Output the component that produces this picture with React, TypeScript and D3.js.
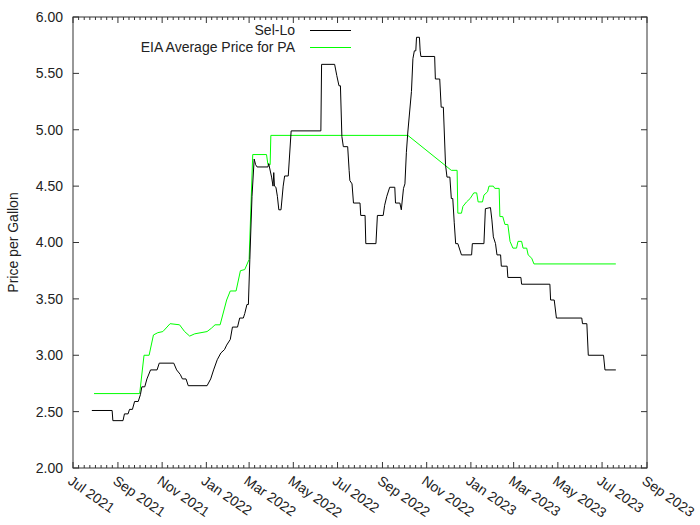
import React from 'react';
import * as d3 from 'd3';

// Sel-Lo posted price, change points [date, price]
const selLo: [string, number][] = [
  ['2021-07-27', 2.51], ['2021-08-24', 2.51], ['2021-08-25', 2.42], ['2021-09-08', 2.42],
  ['2021-09-10', 2.48], ['2021-09-15', 2.48], ['2021-09-17', 2.52], ['2021-09-21', 2.52],
  ['2021-09-24', 2.59], ['2021-09-29', 2.59], ['2021-10-02', 2.65], ['2021-10-04', 2.72],
  ['2021-10-08', 2.72], ['2021-10-11', 2.79], ['2021-10-16', 2.87], ['2021-10-25', 2.87],
  ['2021-10-28', 2.93], ['2021-11-17', 2.93], ['2021-11-21', 2.87], ['2021-11-26', 2.83],
  ['2021-11-29', 2.79], ['2021-12-04', 2.79], ['2021-12-07', 2.73], ['2022-01-02', 2.73],
  ['2022-01-07', 2.79], ['2022-01-11', 2.87], ['2022-01-16', 2.96], ['2022-01-21', 3.02],
  ['2022-01-26', 3.05], ['2022-01-29', 3.09], ['2022-02-03', 3.14], ['2022-02-06', 3.25],
  ['2022-02-13', 3.25], ['2022-02-16', 3.33], ['2022-02-21', 3.33], ['2022-02-23', 3.37],
  ['2022-02-26', 3.45], ['2022-02-28', 3.45], ['2022-03-02', 3.85], ['2022-03-05', 4.41],
  ['2022-03-08', 4.74], ['2022-03-10', 4.69], ['2022-03-12', 4.67], ['2022-03-27', 4.67],
  ['2022-03-28', 4.70], ['2022-04-01', 4.58], ['2022-04-03', 4.50], ['2022-04-04', 4.62],
  ['2022-04-05', 4.50], ['2022-04-07', 4.49], ['2022-04-09', 4.41], ['2022-04-11', 4.29],
  ['2022-04-14', 4.29], ['2022-04-17', 4.50], ['2022-04-19', 4.59], ['2022-04-24', 4.59],
  ['2022-04-28', 4.99], ['2022-06-08', 4.99], ['2022-06-09', 5.58], ['2022-06-27', 5.58],
  ['2022-06-30', 5.48], ['2022-07-03', 5.39], ['2022-07-05', 5.39], ['2022-07-07', 4.94],
  ['2022-07-09', 4.85], ['2022-07-15', 4.85], ['2022-07-17', 4.64], ['2022-07-18', 4.55],
  ['2022-07-21', 4.52], ['2022-07-23', 4.35], ['2022-08-01', 4.35], ['2022-08-02', 4.24],
  ['2022-08-08', 4.24], ['2022-08-09', 3.99], ['2022-08-23', 3.99], ['2022-08-25', 4.24],
  ['2022-09-02', 4.24], ['2022-09-04', 4.33], ['2022-09-07', 4.41], ['2022-09-11', 4.49],
  ['2022-09-18', 4.49], ['2022-09-19', 4.35], ['2022-09-25', 4.35], ['2022-09-27', 4.29],
  ['2022-09-30', 4.48], ['2022-10-02', 4.52], ['2022-10-04', 4.80], ['2022-10-06', 4.98],
  ['2022-10-11', 5.34], ['2022-10-13', 5.63], ['2022-10-15', 5.70], ['2022-10-17', 5.70],
  ['2022-10-18', 5.82], ['2022-10-22', 5.82], ['2022-10-23', 5.70], ['2022-10-24', 5.65],
  ['2022-11-12', 5.65], ['2022-11-13', 5.45], ['2022-11-19', 5.45], ['2022-11-21', 5.20],
  ['2022-11-24', 5.20], ['2022-11-27', 4.69], ['2022-11-29', 4.58], ['2022-12-03', 4.58],
  ['2022-12-05', 4.39], ['2022-12-07', 4.39], ['2022-12-09', 4.18], ['2022-12-11', 3.99],
  ['2022-12-14', 3.99], ['2022-12-19', 3.89], ['2023-01-02', 3.89], ['2023-01-03', 3.99],
  ['2023-01-19', 3.99], ['2023-01-21', 4.30], ['2023-01-28', 4.31], ['2023-01-30', 4.20],
  ['2023-02-01', 4.05], ['2023-02-04', 3.99], ['2023-02-06', 3.89], ['2023-02-11', 3.89],
  ['2023-02-12', 3.79], ['2023-02-20', 3.79], ['2023-02-21', 3.69], ['2023-03-11', 3.69],
  ['2023-03-12', 3.63], ['2023-04-20', 3.63], ['2023-04-21', 3.49], ['2023-04-26', 3.49],
  ['2023-04-29', 3.33], ['2023-06-03', 3.33], ['2023-06-04', 3.28], ['2023-06-10', 3.28],
  ['2023-06-12', 3.00], ['2023-07-03', 3.00], ['2023-07-05', 2.87], ['2023-07-20', 2.87],
];

// EIA average retail price for Pennsylvania
const eiaPA: [string, number][] = [
  ['2021-07-30', 2.66], ['2021-10-01', 2.66], ['2021-10-07', 3.00], ['2021-10-14', 3.00],
  ['2021-10-20', 3.18], ['2021-10-26', 3.20], ['2021-11-02', 3.21], ['2021-11-12', 3.28],
  ['2021-11-25', 3.27], ['2021-12-02', 3.21], ['2021-12-09', 3.17], ['2021-12-16', 3.19],
  ['2022-01-02', 3.21], ['2022-01-08', 3.24], ['2022-01-13', 3.27], ['2022-01-20', 3.27],
  ['2022-01-29', 3.49], ['2022-02-03', 3.57], ['2022-02-11', 3.57], ['2022-02-17', 3.75],
  ['2022-02-23', 3.76], ['2022-03-01', 3.85], ['2022-03-06', 4.78], ['2022-03-25', 4.78],
  ['2022-03-27', 4.69], ['2022-03-30', 4.69], ['2022-03-31', 4.95], ['2022-10-06', 4.95],
  ['2022-12-05', 4.64], ['2022-12-13', 4.64], ['2022-12-14', 4.26], ['2022-12-19', 4.26],
  ['2022-12-21', 4.32], ['2022-12-26', 4.36], ['2022-12-31', 4.39], ['2023-01-05', 4.44],
  ['2023-01-09', 4.44], ['2023-01-11', 4.36], ['2023-01-17', 4.36], ['2023-01-19', 4.42],
  ['2023-01-24', 4.45], ['2023-01-26', 4.50], ['2023-02-01', 4.50], ['2023-02-03', 4.48],
  ['2023-02-09', 4.48], ['2023-02-10', 4.23], ['2023-02-14', 4.23], ['2023-02-17', 4.16],
  ['2023-02-21', 4.16], ['2023-02-24', 4.01], ['2023-02-28', 3.95], ['2023-03-05', 3.95],
  ['2023-03-07', 4.01], ['2023-03-12', 4.01], ['2023-03-14', 3.95], ['2023-03-19', 3.95],
  ['2023-03-21', 3.89], ['2023-03-26', 3.86], ['2023-03-29', 3.81], ['2023-07-20', 3.81],
];

const yTicks = [2.0, 2.5, 3.0, 3.5, 4.0, 4.5, 5.0, 5.5, 6.0];
const xStart = '2021-07-01';
const xEnd = '2023-09-01';
const seriesNames = ['Sel-Lo', 'EIA Average Price for PA'];
const seriesColors = ['#000000', '#00ff00'];

const W = 700;
const H = 525;
const margin = { top: 17, right: 53, bottom: 57, left: 73 };
const FONT = '"Liberation Sans", Arial, sans-serif';
const FS = 14;

const parse = d3.timeParse('%Y-%m-%d');

const App: React.FC = () => {
  const innerW = W - margin.left - margin.right;
  const innerH = H - margin.top - margin.bottom;

  const x = d3
    .scaleTime()
    .domain([parse(xStart) as Date, parse(xEnd) as Date])
    .range([margin.left, margin.left + innerW]);

  const y = d3
    .scaleLinear()
    .domain([2, 6])
    .range([margin.top + innerH, margin.top]);

  const line = d3
    .line<[string, number]>()
    .x((d) => x(parse(d[0]) as Date))
    .y((d) => y(d[1]));

  const majors = d3.timeMonth.every(2)!.range(x.domain()[0], d3.timeDay.offset(x.domain()[1], 1));
  const minors: Date[] = [];
  for (let i = 0; i < majors.length - 1; i++) {
    const a = +majors[i];
    const b = +majors[i + 1];
    for (let k = 1; k < 8; k++) minors.push(new Date(a + ((b - a) * k) / 8));
  }
  const fmt = d3.timeFormat('%b %Y');

  const left = margin.left;
  const right = margin.left + innerW;
  const top = margin.top;
  const bottom = margin.top + innerH;
  const axisColor = '#333';

  return (
    <svg
      width={W}
      height={H}
      style={{ position: 'absolute', left: 0, top: 0, background: '#fff' }}
      fontFamily={FONT}
    >
      {/* y ticks */}
      {yTicks.map((t) => (
        <g key={'y' + t}>
          <line x1={left} x2={left + 6} y1={y(t)} y2={y(t)} stroke={axisColor} />
          <line x1={right} x2={right - 6} y1={y(t)} y2={y(t)} stroke={axisColor} />
          <text x={left - 10} y={y(t)} dy="0.35em" textAnchor="end" fontSize={FS} fill="#222">
            {t.toFixed(2)}
          </text>
        </g>
      ))}
      {/* x ticks */}
      {majors.map((d) => (
        <g key={'x' + +d}>
          <line x1={x(d)} x2={x(d)} y1={bottom} y2={bottom - 6} stroke={axisColor} />
          <line x1={x(d)} x2={x(d)} y1={top} y2={top + 6} stroke={axisColor} />
          <text
            transform={`translate(${x(d) - 6},${bottom + 15}) rotate(35)`}
            fontSize={FS}
            fill="#222"
          >
            {fmt(d)}
          </text>
        </g>
      ))}
      {minors.map((d) => (
        <g key={'m' + +d}>
          <line x1={x(d)} x2={x(d)} y1={bottom} y2={bottom - 3} stroke={axisColor} />
          <line x1={x(d)} x2={x(d)} y1={top} y2={top + 3} stroke={axisColor} />
        </g>
      ))}
      <rect
        x={left}
        y={top}
        width={innerW}
        height={innerH}
        fill="none"
        stroke={axisColor}
      />
      <text
        transform={`translate(18,${(top + bottom) / 2}) rotate(-90)`}
        textAnchor="middle"
        fontSize={FS}
        fill="#222"
      >
        Price per Gallon
      </text>

      {/* series */}
      <path d={line(eiaPA) || ''} fill="none" stroke={seriesColors[1]} strokeWidth={1} />
      <path d={line(selLo) || ''} fill="none" stroke={seriesColors[0]} strokeWidth={1} />

      {/* legend */}
      {seriesNames.map((name, i) => (
        <g key={name} transform={`translate(0,${30.5 + i * 17})`}>
          <text x={295} y={0} dy="0.35em" textAnchor="end" fontSize={FS} fill="#222">
            {name}
          </text>
          <line x1={310} x2={351} y1={0} y2={0} stroke={seriesColors[i]} />
        </g>
      ))}
    </svg>
  );
};

export default App;
